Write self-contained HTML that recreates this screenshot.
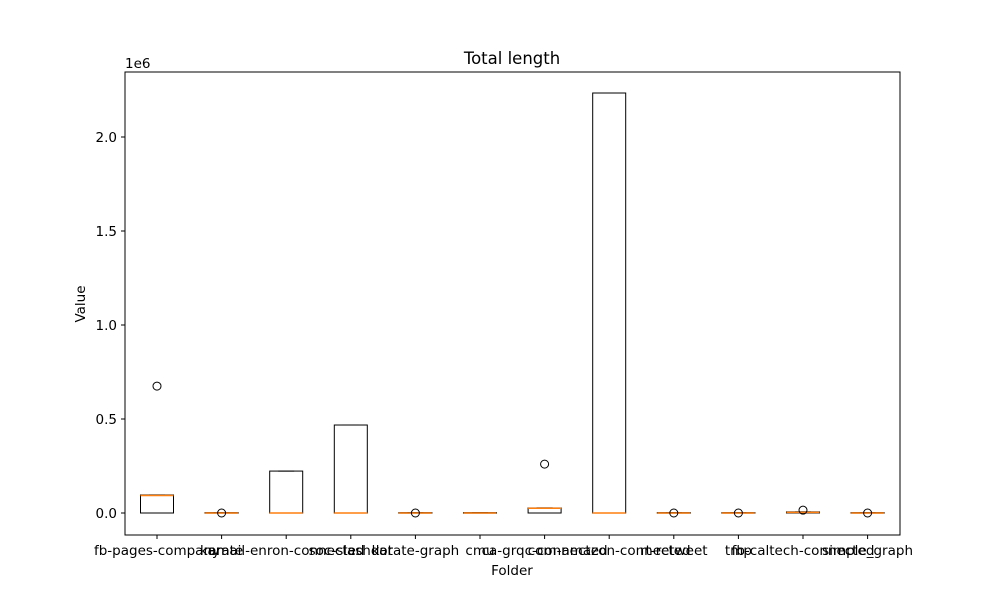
<!DOCTYPE html>
<html><head><meta charset="utf-8"><style>body{margin:0;background:#fff}svg{font-family:"DejaVu Sans","Liberation Sans",sans-serif}</style></head>
<body>
<svg id="c" width="1000" height="600">
<rect width="1000" height="600" fill="#fff"/>
<text x="512" y="64" font-size="16.5" text-anchor="middle">Total length</text>
<text x="125" y="68" font-size="13.5">1e6</text>
<text x="512" y="575" font-size="13.5" text-anchor="middle">Folder</text>
<text x="85" y="304" font-size="13.5" text-anchor="middle" transform="rotate(-90 85 304)">Value</text>
<g id="marks"></g>
<rect x="125" y="72" width="775" height="463" fill="none" stroke="#000" stroke-width="1"/>
</svg>
<script>
const categories=["fb-pages-company","karate","email-enron-connected","soc-slashdot","karate-graph","cmu","ca-grqc-connected","com-amazon-connected","rt-retweet","tmp","fb-caltech-connected","simple_graph"];
const q1=[0,0,0,0,0,0,0,0,0,0,0,0];
const medians=[0.093,0,0,0,0,0,0.025,0,0,0,0.003,0];
const q3=[0.096,0.002,0.223,0.468,0.002,0.002,0.027,2.234,0.002,0.002,0.006,0.002];
const whiskLo=[0,0,0,0,0,0,0,0,0,0,0,0];
const whiskHi=[0.096,0.002,0.223,0.468,0.002,0.002,0.027,2.234,0.002,0.002,0.006,0.002];
const fliers=[[0.675],[0],[],[],[0],[],[0.26],[],[0],[0],[0.015],[0]];
const yTicks=[0,0.5,1.0,1.5,2.0];
const yTickLabels=["0.0","0.5","1.0","1.5","2.0"];
const NS="http://www.w3.org/2000/svg";
const g=document.getElementById('marks');
const svg=document.getElementById('c');
const y=v=>513-v*188;
const x=i=>157+i*64.6;
function mk(t,a,p){const e=document.createElementNS(NS,t);for(const k in a)e.setAttribute(k,a[k]);(p||g).appendChild(e);return e;}
yTicks.forEach((v,i)=>{
 const t=mk('line',{x1:121,x2:125,y1:y(v),y2:y(v),stroke:'#000'});
 
 
 const l=mk('text',{x:117,y:y(v)+5,'font-size':13.5,'text-anchor':'end'},svg);
 l.textContent=yTickLabels[i];
 
 
});
categories.forEach((c,i)=>{
 const cx=x(i),hw=16.5;
 const t=mk('line',{x1:cx,x2:cx,y1:535,y2:539,stroke:'#000'});
 
 
 const l=mk('text',{x:cx,y:555,'font-size':13.5,'text-anchor':'middle'},svg);
 l.textContent=c;
 
 
 const bg=mk('g',{});
 
 
 mk('line',{x1:cx,x2:cx,y1:y(q3[i]),y2:y(whiskHi[i]),stroke:'#000'},bg);
 mk('line',{x1:cx,x2:cx,y1:y(q1[i]),y2:y(whiskLo[i]),stroke:'#000'},bg);
 mk('line',{x1:cx-8,x2:cx+8,y1:y(whiskHi[i]),y2:y(whiskHi[i]),stroke:'#000'},bg);
 mk('line',{x1:cx-8,x2:cx+8,y1:y(whiskLo[i]),y2:y(whiskLo[i]),stroke:'#000'},bg);
 mk('rect',{x:cx-hw,y:y(q3[i]),width:2*hw,height:Math.max(0.5,y(q1[i])-y(q3[i])),fill:'none',stroke:'#000'},bg);
 mk('line',{x1:cx-hw,x2:cx+hw,y1:y(medians[i]),y2:y(medians[i]),stroke:'#ff7f0e','stroke-width':1.5},bg);
 fliers[i].forEach(f=>{
  const p=mk('circle',{cx:cx,cy:y(f),r:4,fill:'none',stroke:'#000'});
  
  
 });
});
</script>
</body></html>
